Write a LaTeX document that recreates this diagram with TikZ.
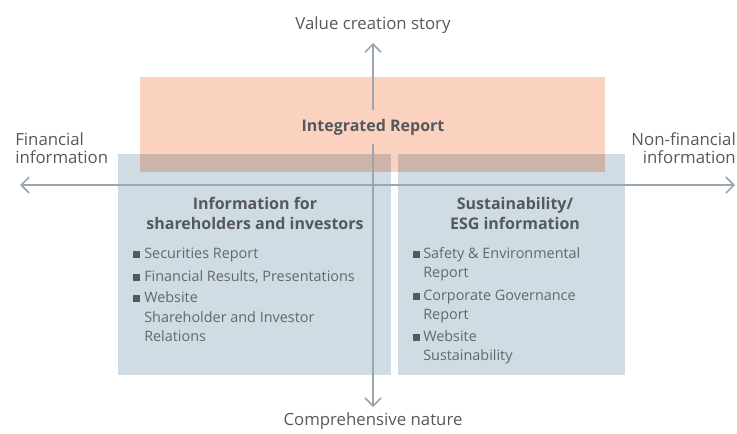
\documentclass[tikz,border=0pt]{standalone}
\usepackage{fontspec}
\setmainfont{Open Sans}
\usetikzlibrary{arrows.meta}

\definecolor{axisgray}{HTML}{9BA6AE}
\definecolor{boxblue}{HTML}{D0DCE3}
\definecolor{irorange}{HTML}{FBD2C0}
\definecolor{overlap}{HTML}{CDB4AA}
\definecolor{labelgray}{HTML}{55595D}
\definecolor{itemgray}{HTML}{63686C}

\begin{document}
\begin{tikzpicture}[x=0.75pt,y=-0.75pt,
  lbl/.style={text=labelgray,font=\fontsize{12.6}{13.5}\selectfont,inner sep=0pt},
  ttl/.style={text=labelgray,font=\fontsize{12}{15}\selectfont\bfseries,align=center,inner sep=0pt},
  itm/.style={text=itemgray,font=\fontsize{10.8}{13}\selectfont,anchor=base west,inner sep=0pt},
  axis/.style={draw=axisgray,line width=1.2pt,{Straight Barb[length=6pt,width=12pt]}-{Straight Barb[length=6pt,width=12pt]}}]
\useasboundingbox (0,0) rectangle (737,433);
% boxes
\fill[boxblue] (118,154) rectangle (391,375);
\fill[boxblue] (398,154) rectangle (625,375);
\fill[irorange] (140,77) rectangle (605,172);
\fill[overlap] (140,154) rectangle (391,172);
\fill[overlap] (398,154) rectangle (605,172);
% axes
\coordinate (lt) at (20,185);
\coordinate (rt) at (735,185);
\coordinate (up) at (373,43);
\coordinate (dn) at (373,407);
\draw[axis] (lt) -- (rt);
\draw[axis] (dn) -- (up);
% axis labels
\node[lbl] (val) at (373,25) {Value creation story};
\node[lbl] (comp) at (373,421) {Comprehensive nature};
\node[lbl,align=left,anchor=west] (fin) at (15,148) {Financial\\information};
\node[lbl,align=right,anchor=east] (nonfin) at (736,148) {Non-financial\\information};
\node[ttl,fill=irorange,inner xsep=3pt,inner ysep=7pt] (ir) at (373,127) {Integrated Report};
% titles
\node[ttl] (sh) at (255,213) {Information for\\shareholders and investors};
\node[ttl] (esg) at (515,213) {Sustainability/\\ESG information};
% items
\foreach \t/\y [count=\i] in {Securities Report/258,{Financial Results, Presentations}/281,Website/302,Shareholder and Investor/322,Relations/341}
  \node[itm] (l\i) at (144,\y) {\t};
\foreach \t/\y [count=\i] in {Safety \& Environmental/258,Report/277,Corporate Governance/300,Report/319,Website/341,Sustainability/360}
  \node[itm] (r\i) at (423,\y) {\t};
\foreach \y in {254,277,298} \fill[labelgray] (133,\y-3.5) rectangle +(7,7);
\foreach \y in {254,296,337} \fill[labelgray] (413,\y-3.5) rectangle +(7,7);
\end{tikzpicture}
\end{document}
